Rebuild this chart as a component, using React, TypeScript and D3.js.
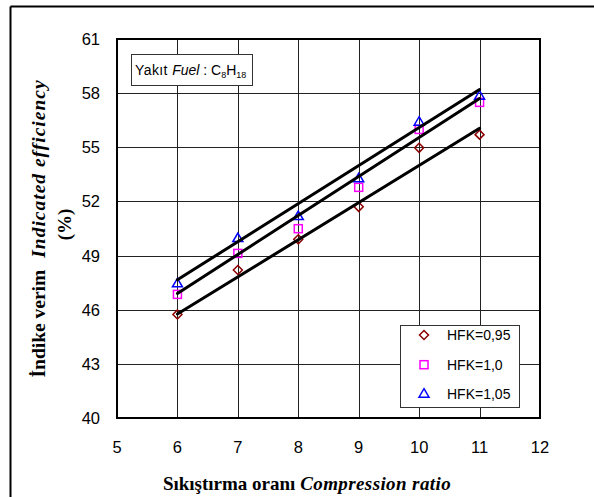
import React from "react";
import * as d3 from "d3";

const compressionRatios = [6, 7, 8, 9, 10, 11];
const hfk095 = [45.74, 48.2, 49.9, 51.7, 54.97, 55.7];
const hfk100 = [46.85, 49.12, 50.49, 52.78, 55.99, 57.49];
const hfk105 = [47.46, 49.97, 51.19, 53.28, 56.42, 57.86];
const seriesNames = ["HFK=0,95", "HFK=1,0", "HFK=1,05"];
// trend line values at compression ratio 6 and 11
const trendX = [6, 11];
const trend095 = [45.76, 56.05];
const trend100 = [46.9, 57.7];
const trend105 = [47.66, 58.2];
const xTicks = [5, 6, 7, 8, 9, 10, 11, 12];
const yTicks = [40, 43, 46, 49, 52, 55, 58, 61];

const W = 594;
const H = 497;
const left = 117;
const right = 540;
const top = 39;
const bottom = 418;

function Marker({ kind, cx, cy }: { kind: number; cx: number; cy: number }) {
  if (kind === 0) {
    const s = 4.5;
    return (
      <path
        d={`M${cx},${cy - s}L${cx + s},${cy}L${cx},${cy + s}L${cx - s},${cy}Z`}
        fill="none"
        stroke="#8B0000"
        strokeWidth={1.5}
      />
    );
  }
  if (kind === 1) {
    const s = 4;
    return (
      <rect x={cx - s} y={cy - s} width={2 * s} height={2 * s} fill="none" stroke="#FF00FF" strokeWidth={1.5} />
    );
  }
  const s = 5;
  return (
    <path
      d={`M${cx},${cy - s}L${cx + s},${cy + s * 0.7}L${cx - s},${cy + s * 0.7}Z`}
      fill="none"
      stroke="#0000FF"
      strokeWidth={1.5}
    />
  );
}

export default function App() {
  const x = d3.scaleLinear().domain([5, 12]).range([left, right]);
  const y = d3.scaleLinear().domain([40, 61]).range([bottom, top]);
  const series = [hfk095, hfk100, hfk105];
  const trends = [trend095, trend100, trend105];
  const line = d3
    .line<number>()
    .x((_, i) => x(trendX[i]))
    .y((d) => y(d));

  const tickFont = "'Liberation Sans', Arial, sans-serif";
  const titleFont = "'Liberation Serif', 'Times New Roman', serif";

  const legendRows = [335, 364.7, 393.7];

  return (
    <svg
      width={W}
      height={H}
      style={{ position: "absolute", left: 0, top: 0, background: "#fff" }}
    >
      <rect x={0} y={0} width={W} height={H} fill="#fff" />
      {/* outer frame */}
      <line x1={10.5} y1={6.5} x2={W} y2={6.5} stroke="#000" strokeWidth={2} />
      <line x1={10.5} y1={6.5} x2={10.5} y2={H} stroke="#000" strokeWidth={2} />

      {/* grid */}
      {xTicks.slice(1, -1).map((t) => (
        <line key={"gx" + t} x1={Math.round(x(t)) + 0.5} x2={Math.round(x(t)) + 0.5} y1={top} y2={bottom} stroke="#222" strokeWidth={1} />
      ))}
      {yTicks.slice(1, -1).map((t) => (
        <line key={"gy" + t} x1={left} x2={right} y1={Math.round(y(t)) + 0.5} y2={Math.round(y(t)) + 0.5} stroke="#222" strokeWidth={1} />
      ))}
      <rect x={left} y={top} width={right - left} height={bottom - top} fill="none" stroke="#000" strokeWidth={2} />

      {/* tick labels */}
      {yTicks.map((t) => (
        <text key={"ty" + t} x={100} y={y(t) + 6} textAnchor="end" fontFamily={tickFont} fontSize={16.5} fill="#000">
          {t}
        </text>
      ))}
      {xTicks.map((t) => (
        <text key={"tx" + t} x={x(t)} y={452.5} textAnchor="middle" fontFamily={tickFont} fontSize={16.5} fill="#000">
          {t}
        </text>
      ))}

      {/* markers */}
      {series.map((vals, si) =>
        vals.map((v, i) => <Marker key={si + "-" + i} kind={si} cx={x(compressionRatios[i])} cy={y(v)} />)
      )}

      {/* trend lines */}
      {trends.map((vals, si) => (
        <path
          key={"tl" + si}
          d={line(vals) as string}
          fill="none"
          stroke="#000"
          strokeWidth={3}
          strokeLinecap="round"
        />
      ))}

      {/* fuel box */}
      <rect x={131.5} y={54.5} width={121} height={31} fill="#fff" stroke="#333" strokeWidth={1} />
      <text x={135} y={75} fontFamily={tickFont} fontSize={14} fill="#000">
        <tspan letterSpacing={0.4}>Yakıt </tspan>
        <tspan fontStyle="italic">Fuel</tspan>
        <tspan> : C</tspan>
        <tspan fontSize={9} dy={3}>8</tspan>
        <tspan dy={-3}>H</tspan>
        <tspan fontSize={9} dy={3}>18</tspan>
      </text>

      {/* legend */}
      <rect x={400.5} y={325.5} width={119} height={82} fill="#fff" stroke="#333" strokeWidth={1} />
      {seriesNames.map((n, i) => (
        <g key={n}>
          <Marker kind={i} cx={424} cy={legendRows[i]} />
          <text x={447} y={legendRows[i] + 5} fontFamily={tickFont} fontSize={14} fill="#000">
            {n}
          </text>
        </g>
      ))}

      {/* axis titles */}
      <text x={307} y={490} textAnchor="middle" fontFamily={titleFont} fontSize={19} fontWeight="bold" fill="#000">
        <tspan>Sıkıştırma oranı </tspan>
        <tspan fontStyle="italic" letterSpacing={0.4}>Compression ratio</tspan>
      </text>
      <g transform={`translate(45,${(top + bottom) / 2}) rotate(-90)`}>
        <text x={0} y={0} textAnchor="middle" fontFamily={titleFont} fontSize={19.5} fontWeight="bold" fill="#000">
          <tspan>İndike verim</tspan>
          <tspan dx={12} fontStyle="italic" letterSpacing={1.0}>Indicated efficiency</tspan>
        </text>
      </g>
      <g transform={`translate(71,${(top + bottom) / 2 - 4}) rotate(-90)`}>
        <text x={0} y={0} textAnchor="middle" fontFamily={titleFont} fontSize={19} fontWeight="bold" fill="#000">
          (%)
        </text>
      </g>
    </svg>
  );
}
